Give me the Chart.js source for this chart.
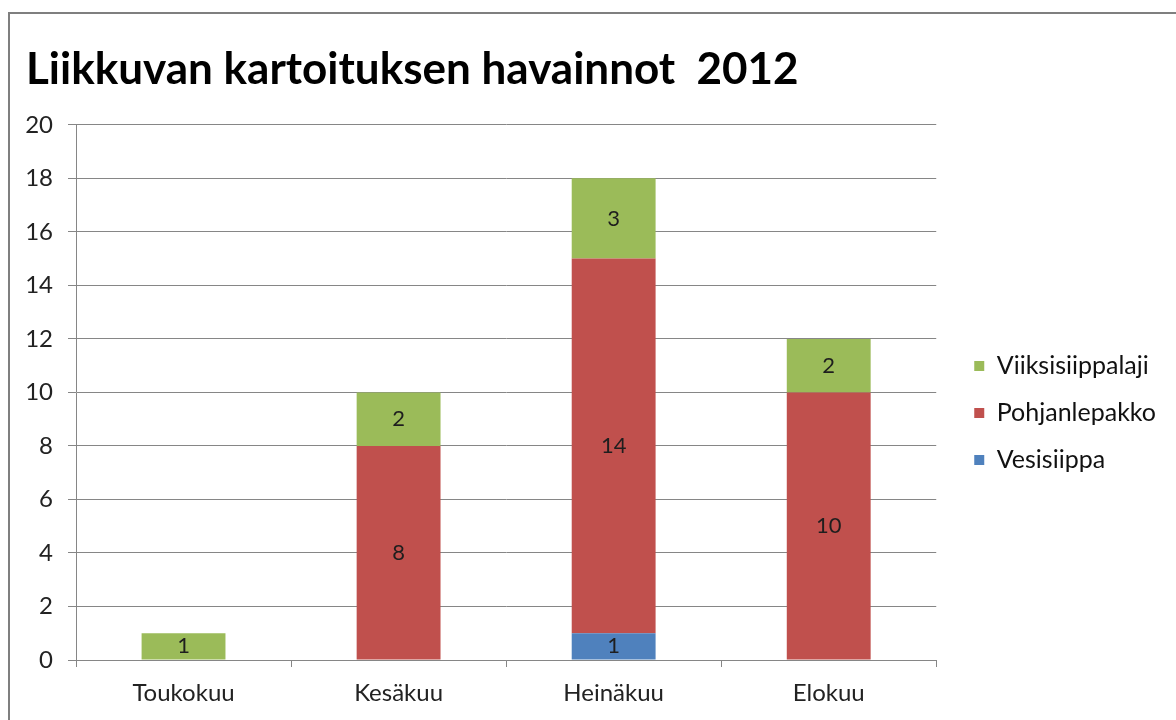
<!DOCTYPE html>
<html>
<head>
<meta charset="utf-8">
<script src="https://cdn.jsdelivr.net/npm/chart.js@4.4.1/dist/chart.umd.min.js"></script>
<style>
  html, body { margin: 0; padding: 0; background: #fff; }
  #wrap { width: 1176px; height: 720px; }
</style>
</head>
<body>
<div id="wrap"><canvas id="bats"></canvas></div>
<script>
// Data
const months = ["Toukokuu", "Kesäkuu", "Heinäkuu", "Elokuu"];
const vesisiippa = [0, 0, 1, 0];
const pohjanlepakko = [0, 8, 14, 10];
const viiksisiippalaji = [1, 2, 3, 2];
const yTicks = [0, 2, 4, 6, 8, 10, 12, 14, 16, 18, 20];

const FONT = "Lato, 'Open Sans', sans-serif";

// Outer frame of the chart object
const framePlugin = {
    id: "frame",
    beforeDraw(chart) {
        const ctx = chart.ctx;
        ctx.save();
        ctx.fillStyle = "#fff";
        ctx.fillRect(0, 0, chart.width, chart.height);
        ctx.strokeStyle = "#7f7f7f";
        ctx.lineWidth = 2;
        ctx.strokeRect(9, 13, chart.width + 20, chart.height + 20);
        ctx.restore();
    }
};

// Value labels in the middle of each segment
const valueLabels = {
    id: "valueLabels",
    afterDatasetsDraw(chart) {
        const ctx = chart.ctx;
        ctx.save();
        ctx.font = "22px " + FONT;
        ctx.fillStyle = "#1e1e1e";
        ctx.textAlign = "center";
        ctx.textBaseline = "middle";
        chart.data.datasets.forEach((ds, i) => {
            const meta = chart.getDatasetMeta(i);
            meta.data.forEach((bar, j) => {
                const v = ds.data[j];
                if (!v) return;
                ctx.fillText(String(v), bar.x, (bar.y + bar.base) / 2);
            });
        });
        ctx.restore();
    }
};

// Nudge the legend block into place
const legendShift = {
    id: "legendShift",
    afterLayout(chart) {
        const lg = chart.legend;
        if (lg) {
            lg.left += 16;
            lg.right += 16;
            lg.top += 44;
            lg.bottom += 44;
        }
    }
};

const ctx = document.getElementById("bats").getContext("2d");
new Chart(ctx, {
    type: "bar",
    data: {
        labels: months,
        datasets: [
            { label: "Vesisiippa", data: vesisiippa, backgroundColor: "#4f81bd" },
            { label: "Pohjanlepakko", data: pohjanlepakko, backgroundColor: "#c0504d" },
            { label: "Viiksisiippalaji", data: viiksisiippalaji, backgroundColor: "#9bbb59" }
        ]
    },
    options: {
        responsive: true,
        maintainAspectRatio: false,
        animation: false,
        layout: { padding: { left: 26, right: 26, top: 18, bottom: 0 } },
        datasets: { bar: { categoryPercentage: 1, barPercentage: 0.39, borderWidth: 0 } },
        scales: {
            x: {
                stacked: true,
                grid: { offset: true, drawOnChartArea: false, drawTicks: true, tickLength: 7, color: "#868686" },
                border: { color: "#868686", width: 1 },
                ticks: { color: "#222", font: { family: FONT, size: 24 }, padding: 12 },
                afterFit(scale) { scale.height = 60; }
            },
            y: {
                stacked: true,
                min: 0,
                max: 20,
                afterBuildTicks(scale) { scale.ticks = yTicks.map(v => ({ value: v })); },
                grid: { color: "#868686", tickLength: 8, drawTicks: true },
                border: { color: "#868686", width: 1 },
                ticks: { color: "#222", font: { family: FONT, size: 24 }, padding: 15 },
                afterFit(scale) { scale.width = 50; }
            }
        },
        plugins: {
            title: {
                display: true,
                text: "Liikkuvan kartoituksen havainnot  2012",
                align: "start",
                color: "#000",
                font: { family: FONT, size: 44, weight: "bold", lineHeight: 1.2 },
                padding: { top: 25, bottom: 29 }
            },
            legend: {
                position: "right",
                reverse: true,
                labels: {
                    color: "#111",
                    font: { family: FONT, size: 25 },
                    boxWidth: 10,
                    boxHeight: 10,
                    padding: 22
                }
            },
            tooltip: { enabled: false }
        }
    },
    plugins: [framePlugin, valueLabels, legendShift]
});
</script>
</body>
</html>
